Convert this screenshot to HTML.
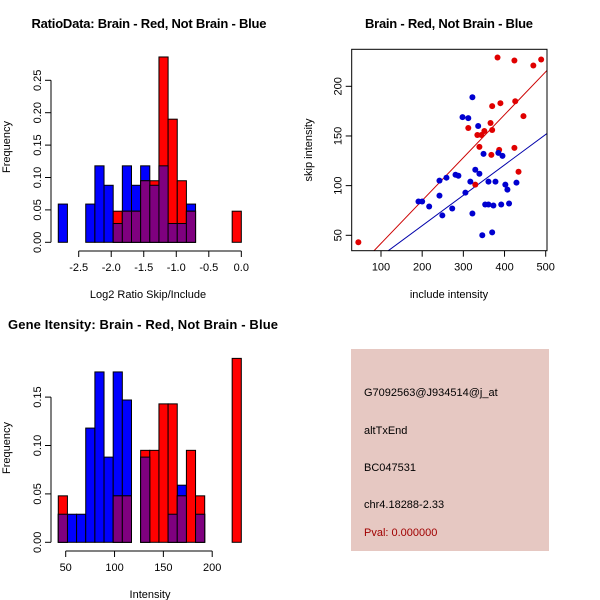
<!DOCTYPE html>
<html><head><meta charset="utf-8"><style>
body{margin:0;background:#fff}
svg{display:block;font-family:"Liberation Sans",sans-serif}
</style></head><body>
<svg id="s" width="600" height="600" xmlns="http://www.w3.org/2000/svg">
<rect width="600" height="600" fill="#fff"/>
<text x="149" y="28" text-anchor="middle" font-weight="bold" font-size="13" textLength="235">RatioData: Brain - Red, Not Brain - Blue</text>
<text x="449" y="28" text-anchor="middle" font-weight="bold" font-size="13" textLength="168">Brain - Red, Not Brain - Blue</text>
<text x="143" y="329" text-anchor="middle" font-weight="bold" font-size="13" textLength="270">Gene Itensity: Brain - Red, Not Brain - Blue</text>
<g id="p1"></g>
<g id="p2"></g>
<g id="p3"></g>
<g>
<rect x="351" y="349" width="198" height="202" fill="#e6c8c2"/>
<text x="364" y="396" font-size="11">G7092563@J934514@j_at</text>
<text x="364" y="434" font-size="11">altTxEnd</text>
<text x="364" y="471" font-size="11">BC047531</text>
<text x="364" y="508" font-size="11">chr4.18288-2.33</text>
<text x="364" y="536" font-size="11" fill="#a00000">Pval: 0.000000</text>
</g>
</svg>
<script>
// Ratio histogram data
const ratioStart = -2.814;
const ratioBinWidth = 0.1407;
const ratioBlue = [0.059,0,0,0.059,0.118,0.088,0.029,0.118,0.088,0.118,0.088,0.118,0.029,0.029,0.059,0,0,0,0,0];
const ratioRed  = [0,0,0,0,0,0,0.048,0.048,0.048,0.095,0.095,0.286,0.19,0.095,0.048,0,0,0,0,0.048];
const ratioXTicks = [-2.5,-2.0,-1.5,-1.0,-0.5,0.0];
const ratioXTickLabels = ["-2.5","-2.0","-1.5","-1.0","-0.5","0.0"];
const ratioYTicks = [0,0.05,0.10,0.15,0.20,0.25];
const ratioYTickLabels = ["0.00","0.05","0.10","0.15","0.20","0.25"];
// Intensity histogram data
const intStart = 42.4;
const intBinWidth = 9.37;
const intBlue = [0.029,0.029,0.029,0.118,0.176,0.088,0.176,0.147,0,0.088,0,0,0.029,0.059,0,0.029,0,0,0,0];
const intRed  = [0.048,0,0,0,0,0,0.048,0.048,0,0.095,0.095,0.143,0.143,0.048,0.095,0.048,0,0,0,0.19];
const intXTicks = [50,100,150,200];
const intXTickLabels = ["50","100","150","200"];
const intYTicks = [0,0.05,0.10,0.15];
const intYTickLabels = ["0.00","0.05","0.10","0.15"];
// Scatter data
const redX = [45,383,424,470,489,370,390,426,446,312,366,370,351,344,334,339,368,387,424,434,329];
const redY = [43,229,226,221,227,180,183,185,170,158,163,156,155,151,151,139,131,136,138,114,101];
const blueX = [322,298,312,336,349,385,395,329,339,281,288,259,242,317,361,378,402,429,407,305,242,191,200,217,273,249,322,353,361,373,392,411,346,370];
const blueY = [189,169,168,160,132,133,130,116,112,111,110,108,105,104,104,104,101,103,96,93,90,84,84,79,77,70,72,81,81,80,81,82,50,53];
const redFit = [0.432,-1.4];
const blueFit = [0.306,-1.5];
const scXTicks = [100,200,300,400,500];
const scXTickLabels = ["100","200","300","400","500"];
const scYTicks = [50,100,150,200];
const scYTickLabels = ["50","100","150","200"];

const NS="http://www.w3.org/2000/svg";
function mk(parent,tag,attrs){const e=document.createElementNS(NS,tag);for(const k in attrs)e.setAttribute(k,attrs[k]);parent.appendChild(e);return e;}

function hist(g,opt,start,bw,blue,red,xt,xtl,yt,ytl,xlab){
  const sx=v=>opt.x0+(v-opt.xv0)*opt.kx;
  const sy=v=>opt.y0-v*opt.ky;
  for(let i=0;i<blue.length;i++){
    const a=sx(start+i*bw),b=sx(start+(i+1)*bw);
    if(blue[i]>0){const r=mk(g,'rect',{x:a,y:sy(blue[i]),width:b-a,height:sy(0)-sy(blue[i]),fill:'#0000ff',stroke:'#000','stroke-width':1});
      
      }
  }
  for(let i=0;i<red.length;i++){
    const a=sx(start+i*bw),b=sx(start+(i+1)*bw);
    if(red[i]>0){const r=mk(g,'rect',{x:a,y:sy(red[i]),width:b-a,height:sy(0)-sy(red[i]),fill:'#ff0000',stroke:'#000','stroke-width':1});
      
      }
  }
  for(let i=0;i<red.length;i++){
    const m=Math.min(red[i],blue[i]);
    const a=sx(start+i*bw),b=sx(start+(i+1)*bw);
    if(m>0){const r=mk(g,'rect',{x:a,y:sy(m),width:b-a,height:sy(0)-sy(m),fill:'#7f007f',stroke:'#000','stroke-width':1});
      
      }
  }
  const xa=mk(g,'line',{x1:sx(xt[0]),x2:sx(xt[xt.length-1]),y1:opt.xaxY,y2:opt.xaxY,stroke:'#000'});
  
  
  xt.forEach((v,i)=>{mk(g,'line',{x1:sx(v),x2:sx(v),y1:opt.xaxY,y2:opt.xaxY+6,stroke:'#000'});
    const t=mk(g,'text',{x:sx(v),y:opt.xaxY+20,'text-anchor':'middle','font-size':11});t.textContent=xtl[i];
    
    });
  const ya=mk(g,'line',{x1:opt.yaxX,x2:opt.yaxX,y1:sy(yt[0]),y2:sy(yt[yt.length-1]),stroke:'#000'});
  
  
  yt.forEach((v,i)=>{mk(g,'line',{x1:opt.yaxX,x2:opt.yaxX-6,y1:sy(v),y2:sy(v),stroke:'#000'});
    const t=mk(g,'text',{x:0,y:0,'text-anchor':'middle','font-size':11,transform:`translate(${opt.yaxX-10},${sy(v)}) rotate(-90)`});t.textContent=ytl[i];
    
    });
  const xl=mk(g,'text',{x:opt.xlabX,y:opt.xaxY+47,'text-anchor':'middle','font-size':11});xl.textContent=xlab;
  
  
  const yl=mk(g,'text',{x:0,y:0,'text-anchor':'middle','font-size':11,transform:`translate(10,${opt.ylabY}) rotate(-90)`});yl.textContent='Frequency';
  
  
}

hist(document.getElementById('p1'),{x0:78.7,xv0:-2.5,kx:65.05,y0:242.3,ky:648,xaxY:251,yaxX:51,xlabX:148,ylabY:147},
  ratioStart,ratioBinWidth,ratioBlue,ratioRed,ratioXTicks,ratioXTickLabels,ratioYTicks,ratioYTickLabels,'Log2 Ratio Skip/Include');
hist(document.getElementById('p3'),{x0:65.7,xv0:50,kx:0.9767,y0:542.3,ky:968,xaxY:551,yaxX:51,xlabX:150,ylabY:448},
  intStart,intBinWidth,intBlue,intRed,intXTicks,intXTickLabels,intYTicks,intYTickLabels,'Intensity');

(function(){
  const g=document.getElementById('p2');
  const L=351.7,R=547,T=49.3,B=250.7;
  const sx=v=>381+(v-100)*0.41175;
  const sy=v=>235.3-(v-50)*0.9933;
  const clip=mk(g,'clipPath',{id:'sc'});mk(clip,'rect',{x:L,y:T,width:R-L,height:B-T});
  const lg=mk(g,'g',{'clip-path':'url(#sc)'});
  [[redFit,'#cc0000','red-fit-line'],[blueFit,'#0000aa','blue-fit-line']].forEach(([f,c,n])=>{
    const l=mk(lg,'line',{x1:sx(0),y1:sy(f[1]),x2:sx(600),y2:sy(f[0]*600+f[1]),stroke:c,'stroke-width':1});
    
    
  });
  redX.forEach((x,i)=>{const c=mk(g,'circle',{cx:sx(x),cy:sy(redY[i]),r:3,fill:'#e00000'});
    
    });
  blueX.forEach((x,i)=>{const c=mk(g,'circle',{cx:sx(x),cy:sy(blueY[i]),r:3,fill:'#0000d0'});
    
    });
  const box=mk(g,'rect',{x:L,y:T,width:R-L,height:B-T,fill:'none',stroke:'#000'});
  
  
  scXTicks.forEach((v,i)=>{mk(g,'line',{x1:sx(v),x2:sx(v),y1:B,y2:B+6,stroke:'#000'});
    const t=mk(g,'text',{x:sx(v),y:B+20,'text-anchor':'middle','font-size':11});t.textContent=scXTickLabels[i];
    
    });
  scYTicks.forEach((v,i)=>{mk(g,'line',{x1:L,x2:L-6,y1:sy(v),y2:sy(v),stroke:'#000'});
    const t=mk(g,'text',{x:0,y:0,'text-anchor':'middle','font-size':11,transform:`translate(${L-10},${sy(v)}) rotate(-90)`});t.textContent=scYTickLabels[i];
    
    });
  const xl=mk(g,'text',{x:449,y:298,'text-anchor':'middle','font-size':11});xl.textContent='include intensity';
  
  
  const yl=mk(g,'text',{x:0,y:0,'text-anchor':'middle','font-size':11,transform:'translate(312,150) rotate(-90)'});yl.textContent='skip intensity';
  
  
})();
</script>
</body></html>
